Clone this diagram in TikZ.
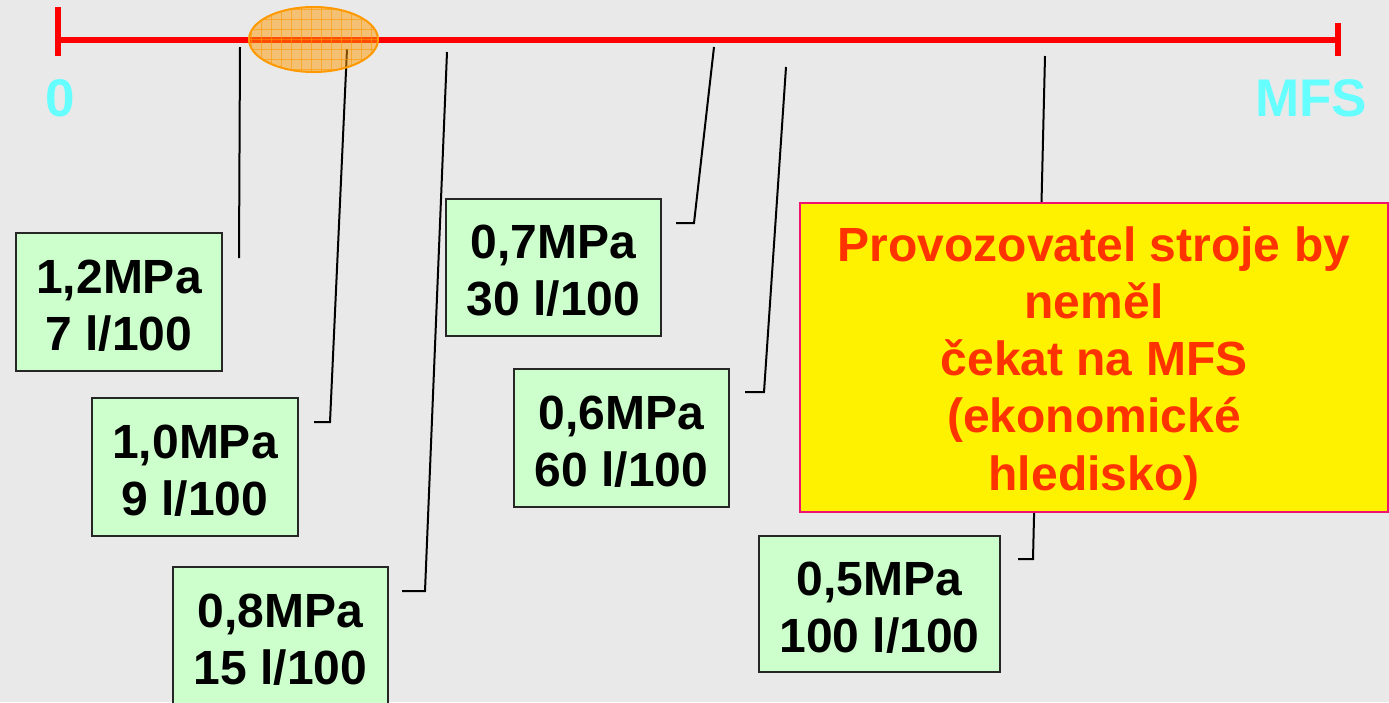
\documentclass[tikz,border=0pt]{standalone}
\usepackage{fontspec}
\usetikzlibrary{shapes.geometric}
\setmainfont{Liberation Sans}
\definecolor{bgc}{RGB}{233,233,233}
\definecolor{gfill}{RGB}{204,255,204}
\definecolor{cyanl}{RGB}{102,255,255}
\definecolor{ytext}{RGB}{255,51,0}
\definecolor{yborder}{RGB}{240,20,110}
\definecolor{orng}{RGB}{255,153,0}
\newcommand{\gstrut}{\rule{0pt}{40.5pt}}
\newcommand{\ystrut}{\rule{0pt}{46pt}}
\tikzset{
  gbox/.style={draw=black!85, line width=1.6pt, fill=gfill, align=center,
    font=\fontsize{48}{57}\selectfont\bfseries, inner sep=0pt},
  leader/.style={draw=black, line width=2pt},
  axis/.style={draw=red, line width=5.5pt},
  endlab/.style={text=cyanl, font=\fontsize{53}{60}\selectfont\bfseries, inner sep=0pt}
}
\begin{document}
\begin{tikzpicture}[x=1pt,y=-1pt]
\useasboundingbox (0,0) rectangle (1389,702);
\fill[bgc] (0,0) rectangle (1389,702);
\clip (0,0) rectangle (1389,702);

% axis
\coordinate (a0) at (60,40);
\coordinate (a1) at (1338,40);
\coordinate (t0a) at (58,7);
\coordinate (t0b) at (58,56);
\coordinate (t1a) at (1338,23);
\coordinate (t1b) at (1338,56);
\draw[axis] (a0) -- (a1);
\draw[draw=red, line width=6pt] (t0a) -- (t0b);
\draw[draw=red, line width=6pt] (t1a) -- (t1b);

\node[endlab] (zero) at (60,98) {0};
\node[endlab] (mfs) at (1311,98) {MFS};

% leader coordinates
\coordinate (p12a) at (240,47);  \coordinate (p12b) at (239,258);
\coordinate (p10a) at (347,49);  \coordinate (p10b) at (330,422); \coordinate (p10c) at (314,422);
\coordinate (p08a) at (447,52);  \coordinate (p08b) at (425,591); \coordinate (p08c) at (402,591);
\coordinate (p07a) at (714,47);  \coordinate (p07b) at (694,223); \coordinate (p07c) at (676,223);
\coordinate (p06a) at (786,67);  \coordinate (p06b) at (764,392); \coordinate (p06c) at (745,392);
\coordinate (p05a) at (1045,56); \coordinate (p05b) at (1033,559); \coordinate (p05c) at (1018,559);

\draw[leader] (p12a) -- (p12b);
\draw[leader] (p10a) -- (p10b) -- (p10c);
\draw[leader] (p08a) -- (p08b) -- (p08c);
\draw[leader] (p07a) -- (p07b) -- (p07c);
\draw[leader] (p06a) -- (p06b) -- (p06c);
\draw[leader] (p05a) -- (p05b) -- (p05c);

% ellipse with grid
\node[ellipse, fill=orng, fill opacity=0.5, minimum width=129pt, minimum height=65pt, inner sep=0pt] (ell) at (313.5,39.5) {};
\begin{scope}
  \clip (313.5,39.5) ellipse [x radius=64.5pt, y radius=32.5pt];
  \foreach \gx in {251,261,...,381} {\draw[orng, line width=0.8pt, opacity=0.6] (\gx,0) -- (\gx,80);}
  \foreach \gy in {9,19,...,79} {\draw[orng, line width=0.8pt, opacity=0.6] (240,\gy) -- (390,\gy);}
\end{scope}
\draw[orng, line width=2pt] (ell.center) ellipse [x radius=64.5pt, y radius=32.5pt];

% green boxes
\node[gbox, minimum width=206pt, minimum height=138pt] (b12) at (119,302) {\gstrut 1,2MPa\\7 l/100};
\node[gbox, minimum width=206pt, minimum height=138pt] (b10) at (195,467) {\gstrut 1,0MPa\\9 l/100};
\node[gbox, minimum width=215pt, minimum height=138pt] (b08) at (280.5,636) {\gstrut 0,8MPa\\15 l/100};
\node[gbox, minimum width=215pt, minimum height=137pt] (b07) at (553.5,267.5) {\gstrut 0,7MPa\\30 l/100};
\node[gbox, minimum width=215pt, minimum height=138pt] (b06) at (621.5,438) {\gstrut 0,6MPa\\60 l/100};
\node[gbox, minimum width=241pt, minimum height=136pt] (b05) at (879.5,604) {\gstrut 0,5MPa\\100 l/100};

% yellow box
\node[draw=yborder, line width=2pt, fill=yellow, text=ytext, align=center,
  font=\fontsize{48}{57.25}\selectfont\bfseries, inner sep=0pt,
  minimum width=588pt, minimum height=309pt] (yb) at (1094,357.5)
  {\ystrut Provozovatel stroje by\\neměl\\čekat na MFS\\(ekonomické\\hledisko)};
\end{tikzpicture}
\end{document}
